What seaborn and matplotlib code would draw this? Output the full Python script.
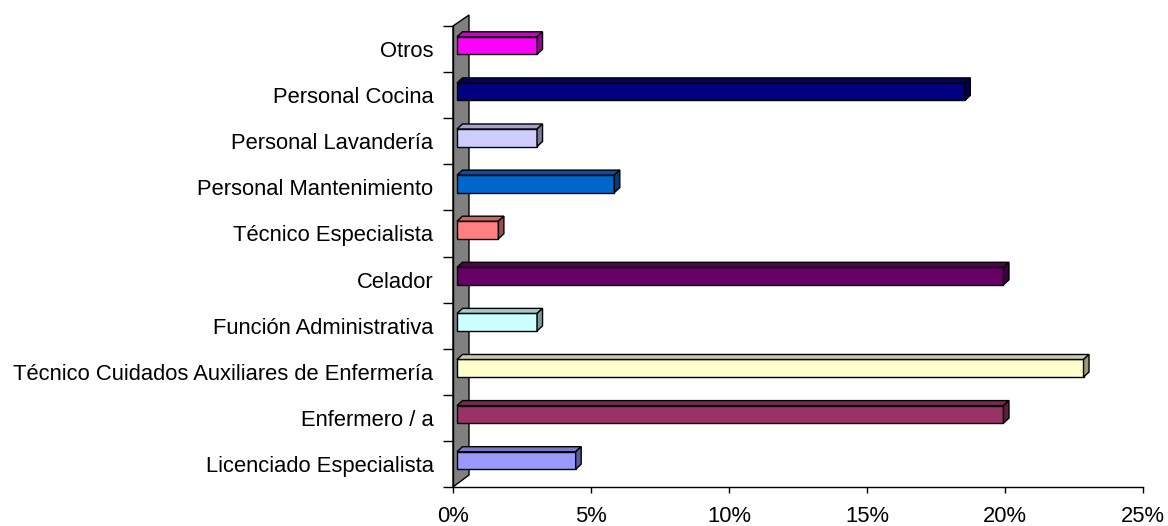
import matplotlib
matplotlib.use('Agg')
import matplotlib.pyplot as plt
import matplotlib.transforms as mtransforms
from matplotlib.patches import Polygon
from matplotlib.ticker import PercentFormatter
import numpy as np
import seaborn as sns

# categorias de arriba a abajo
categorias = ['Otros', 'Personal Cocina', 'Personal Lavandería', 'Personal Mantenimiento',
              'Técnico Especialista', 'Celador', 'Función Administrativa',
              'Técnico Cuidados Auxiliares de Enfermería', 'Enfermero / a',
              'Licenciado Especialista']
valores = [2.9, 18.4, 2.9, 5.7, 1.5, 19.8, 2.9, 22.7, 19.8, 4.3]
colores = ['#FF00FF', '#000080', '#CCCCFF', '#0066CC', '#FF8080',
           '#660066', '#CCFFFF', '#FFFFCC', '#993366', '#9999FF']
xticks = [0, 5, 10, 15, 20, 25]

sns.set_style('white')
plt.rcParams['font.family'] = ['Liberation Sans', 'DejaVu Sans']
plt.rcParams['text.color'] = 'black'
plt.rcParams['xtick.color'] = 'black'
plt.rcParams['ytick.color'] = 'black'

fig = plt.figure(figsize=(11.68, 5.26), dpi=100)
ax = fig.add_axes([453 / 1168, 39 / 526, 690 / 1168, 461 / 526])

sns.barplot(x=valores, y=categorias, hue=categorias, palette=colores, legend=False,
            orient='h', width=0.38, saturation=1, edgecolor='black', linewidth=1, ax=ax)

ax.set_xlim(0, 25)
ax.set_ylim(9.5, -0.5)

# desplazamiento de las barras (efecto 3D)
shift = mtransforms.ScaledTranslation(0.04, 0.035, fig.dpi_scale_trans)
dx = 5.5 / (690 / 25)   # profundidad en unidades de datos
dy = 5 / 46.1

for p, c in zip(ax.patches, colores):
    p.set_transform(ax.transData + shift)
    x0, y0 = p.get_x(), p.get_y()
    w, h = p.get_width(), p.get_height()
    rgb = np.array(matplotlib.colors.to_rgb(c))
    # cara superior
    top = Polygon([(x0, y0), (x0 + dx, y0 - dy), (x0 + w + dx, y0 - dy), (x0 + w, y0)],
                  closed=True, facecolor=rgb * 0.8, edgecolor='black', linewidth=1,
                  transform=ax.transData + shift, zorder=p.get_zorder())
    # cara lateral
    side = Polygon([(x0 + w, y0), (x0 + w + dx, y0 - dy), (x0 + w + dx, y0 + h - dy), (x0 + w, y0 + h)],
                   closed=True, facecolor=rgb * 0.6, edgecolor='black', linewidth=1,
                   transform=ax.transData + shift, zorder=p.get_zorder())
    ax.add_patch(top)
    ax.add_patch(side)

# pared gris
wx = 16 / (690 / 25)
pared = Polygon([(0, -0.5), (wx, -0.5 - 11 / 46.1), (wx, 9.5 - 12 / 46.1), (0, 9.5)],
                closed=True, facecolor='#808080', edgecolor='black', linewidth=1,
                clip_on=False, zorder=0.5)
ax.add_patch(pared)

ax.set_xticks(xticks)
ax.xaxis.set_major_formatter(PercentFormatter(decimals=0))
ax.set_yticks(np.arange(-0.5, 10, 1), minor=True)
ax.tick_params(axis='y', which='major', length=0, pad=14, labelsize=15.8)
ax.tick_params(axis='y', which='minor', length=7, width=1, color='black', left=True)
ax.tick_params(axis='x', length=4, width=1, color='black', bottom=True, pad=10, labelsize=15.8)

for s in ['top', 'right']:
    ax.spines[s].set_visible(False)
for s in ['left', 'bottom']:
    ax.spines[s].set_color('black')
    ax.spines[s].set_linewidth(1)

ax.set_xlabel('')
ax.set_ylabel('')

fig.savefig('out.png', dpi=100)
